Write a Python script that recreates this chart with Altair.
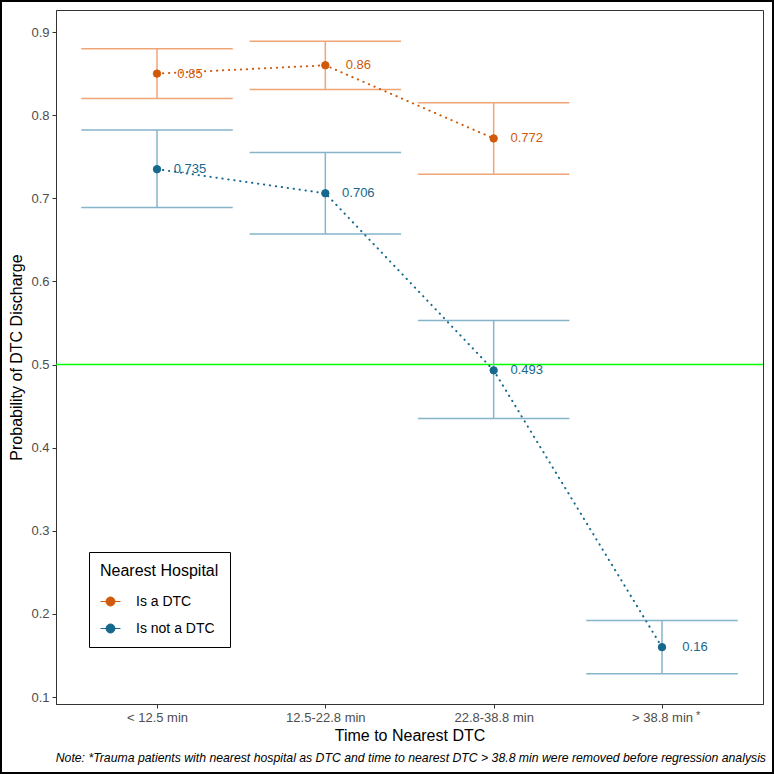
import json

import altair as alt
import pandas as pd

# Categories along the x axis and the two hospital groups
categories = ["< 12.5 min", "12.5-22.8 min", "22.8-38.8 min", "> 38.8 min"]
groups = ["Is a DTC", "Is not a DTC"]

# Predicted probabilities with 95% confidence limits
dtc_prob = [0.85, 0.86, 0.772]
dtc_lower = [0.82, 0.831, 0.729]
dtc_upper = [0.88, 0.889, 0.815]

non_prob = [0.735, 0.706, 0.493, 0.16]
non_lower = [0.689, 0.657, 0.435, 0.128]
non_upper = [0.782, 0.755, 0.553, 0.192]

reference_level = [0.5]
y_ticks = [0.1, 0.2, 0.3, 0.4, 0.5, 0.6, 0.7, 0.8, 0.9]

note = ("Note: *Trauma patients with nearest hospital as DTC and time to nearest DTC "
        "> 38.8 min were removed before regression analysis")

rows = []
for g, probs, lows, highs in [
    (groups[0], dtc_prob, dtc_lower, dtc_upper),
    (groups[1], non_prob, non_lower, non_upper),
]:
    for i, (p, lo, hi) in enumerate(zip(probs, lows, highs)):
        rows.append({"group": g, "pos": i + 1, "category": categories[i],
                     "prob": p, "lower": lo, "upper": hi, "label": f"{p:g}"})
df = pd.DataFrame(rows)

W, H = 707, 694
FONT = "Liberation Sans"
dark = ["#D05A0A", "#16688C"]
light = ["#F0A577", "#86B5CA"]

x_scale = alt.Scale(domain=[0.4, 4.6], nice=False, zero=False)
y_scale = alt.Scale(domain=[0.0916, 0.9265], nice=False, zero=False)

x_axis = alt.Axis(values=[1, 2, 3, 4], labelExpr=f"{json.dumps(categories)}[datum.value - 1]",
                  title="Time to Nearest DTC", grid=False)
y_axis = alt.Axis(values=y_ticks, format=".1f", title="Probability of DTC Discharge", grid=False)

X = alt.X("pos:Q", scale=x_scale, axis=x_axis)
Y = alt.Y("prob:Q", scale=y_scale, axis=y_axis)

base = alt.Chart(df)

light_color = alt.Color("group:N", scale=alt.Scale(domain=groups, range=light), legend=None)

caps_low = base.mark_rule(strokeWidth=1.5).transform_calculate(
    left="datum.pos - 0.45", right="datum.pos + 0.45"
).encode(x=alt.X("left:Q", scale=x_scale, axis=x_axis), x2="right:Q",
         y=alt.Y("lower:Q", scale=y_scale, axis=y_axis), color=light_color)

caps_high = base.mark_rule(strokeWidth=1.5).transform_calculate(
    left="datum.pos - 0.45", right="datum.pos + 0.45"
).encode(x=alt.X("left:Q", scale=x_scale, axis=x_axis), x2="right:Q",
         y=alt.Y("upper:Q", scale=y_scale, axis=y_axis), color=light_color)

stems = base.mark_rule(strokeWidth=1.5).encode(
    x=X, y=alt.Y("lower:Q", scale=y_scale, axis=y_axis), y2="upper:Q", color=light_color)

ref = alt.Chart(pd.DataFrame({"level": reference_level})).mark_rule(
    color="#00FF00", strokeWidth=1.6
).encode(y=alt.Y("level:Q", scale=y_scale, axis=y_axis))

# dotted connectors between the point estimates
lines = base.mark_line(strokeDash=[0.3, 5.7], strokeWidth=2, strokeCap="round").encode(
    x=X, y=Y, order="pos:Q",
    color=alt.Color("group:N", scale=alt.Scale(domain=groups, range=dark), legend=None))

legend_symbol = ("M-1,0L1,0M0.45,0A0.45,0.45,0,1,1,-0.45,0"
                 "A0.45,0.45,0,1,1,0.45,0Z")

points = base.mark_point(filled=True, size=55, strokeWidth=1, opacity=1).encode(
    x=X, y=Y,
    fill=alt.Fill("group:N", scale=alt.Scale(domain=groups, range=dark),
                  legend=alt.Legend(title="Nearest Hospital", symbolType=legend_symbol)),
    stroke=alt.Stroke("group:N", scale=alt.Scale(domain=groups, range=dark),
                      legend=alt.Legend(title="Nearest Hospital", symbolType=legend_symbol)),
)

labels = base.mark_text(align="center", baseline="middle", dx=33, fontSize=13, font=FONT).encode(
    x=X, y=Y, text="label:N",
    color=alt.Color("group:N", scale=alt.Scale(domain=groups, range=dark), legend=None))

asterisk = alt.Chart(pd.DataFrame({"pos": [4], "t": ["*"]})).mark_text(
    align="left", baseline="middle", dx=34, fontSize=11, font=FONT, color="#4D4D4D"
).encode(x=alt.X("pos:Q", scale=x_scale, axis=x_axis), y=alt.value(H + 12), text="t:N")

note_text = alt.Chart(pd.DataFrame({"t": [note]})).mark_text(
    align="right", baseline="middle", fontSize=12.25, fontStyle="italic", font=FONT, color="black"
).encode(x=alt.value(W + 3), y=alt.value(H + 54), text="t:N")

frame = alt.Chart(pd.DataFrame({"t": [0]})).mark_rect(
    fill=None, stroke="black", strokeWidth=2
).encode(x=alt.value(-55), x2=alt.value(W + 10), y=alt.value(-9), y2=alt.value(H + 69))

chart = alt.layer(
    ref, caps_low, caps_high, stems, lines, points, labels, asterisk, note_text, frame
).resolve_scale(
    color="independent", fill="shared", stroke="shared"
).properties(
    width=W, height=H,
    autosize=alt.AutoSizeParams(type="none"),
    padding={"left": 56, "top": 10, "right": 11, "bottom": 70},
    background="white",
).configure_view(
    stroke="#333333", strokeWidth=1
).configure_axis(
    labelFont=FONT, titleFont=FONT, labelFontSize=13, labelColor="#4D4D4D",
    titleFontSize=16, titleFontWeight="normal", titleColor="black",
    domainColor="#333333", tickColor="#333333", tickSize=4, labelPadding=3,
).configure_axisY(
    titlePadding=6,
).configure_axisX(
    titlePadding=3,
).configure_legend(
    orient="none", legendX=33, legendY=542, padding=11,
    strokeColor="black", fillColor="white",
    titleFont=FONT, labelFont=FONT, titleFontSize=16, titleFontWeight="normal",
    titleColor="black", labelFontSize=14, labelColor="black",
    symbolSize=400, symbolStrokeWidth=1, labelOffset=15, rowPadding=9, titlePadding=12,
)

chart.save("out.html", embed_options={"renderer": "svg", "actions": False})
